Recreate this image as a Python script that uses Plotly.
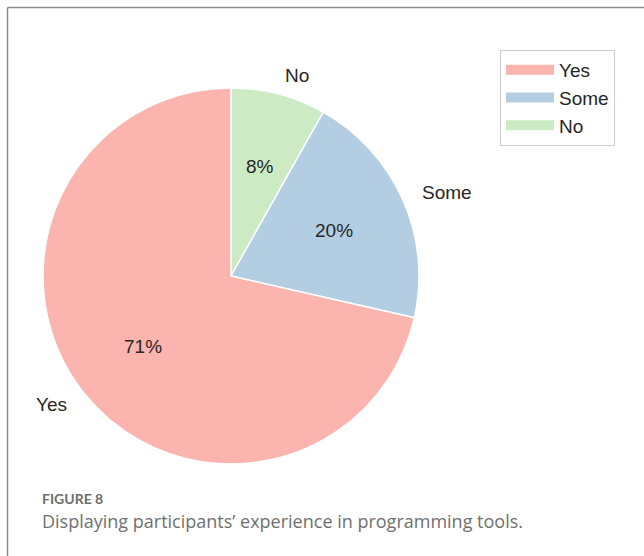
import math
import plotly.graph_objects as go

# Survey responses: experience with programming tools
labels = ["Yes", "Some", "No"]
counts = [35, 10, 4]
colors = ["#fbb4ae", "#b3cde3", "#ccebc5"]

caption_title = "FIGURE 8"
caption_text = "Displaying participants\u2019 experience in programming tools."

W, H = 644, 556
# pie box in pixels (left, top, size)
PX, PY, PS = 43, 88, 376
dom_x = [PX / W, (PX + PS) / W]
dom_y = [1 - (PY + PS) / H, 1 - PY / H]
CX, CY, R = PX + PS / 2, PY + PS / 2, PS / 2

TEXT_FONT = dict(family="Liberation Sans, Arial, sans-serif", size=19, color="#262626")

fig = go.Figure()
# wedges laid out counterclockwise from 12 o'clock in label order,
# i.e. clockwise in reversed order
fig.add_trace(go.Pie(
    labels=labels[::-1],
    values=counts[::-1],
    sort=False,
    direction="clockwise",
    rotation=0,
    marker=dict(colors=colors[::-1], line=dict(color="white", width=1.5)),
    textinfo="none",
    hoverinfo="label+percent",
    showlegend=False,
    domain=dict(x=dom_x, y=dom_y),
))

# legend entries as wide colour patches
for lab, col in zip(labels, colors):
    fig.add_trace(go.Scatter(
        x=[None], y=[None], mode="lines", name=lab,
        line=dict(color=col, width=13), hoverinfo="skip",
    ))


def to_paper(px, py):
    return px / W, 1 - py / H


# percentage labels inside and category labels outside each wedge
total = sum(counts)
annotations = []
start = 0.0  # degrees, measured counterclockwise from 12 o'clock
for lab, v in zip(labels, counts):
    frac = v / total
    span = frac * 360.0
    mid = math.radians(start + span / 2)
    dx, dy = -math.sin(mid), math.cos(mid)
    px, py = to_paper(CX + 0.6 * R * dx, CY - 0.6 * R * dy)
    annotations.append(dict(
        x=px, y=py, xref="paper", yref="paper",
        text=f"{frac * 100:.0f}%", showarrow=False,
        xanchor="center", yanchor="middle", font=TEXT_FONT,
    ))
    px, py = to_paper(CX + 1.1 * R * dx, CY - 1.1 * R * dy)
    annotations.append(dict(
        x=px, y=py, xref="paper", yref="paper",
        text=lab, showarrow=False,
        xanchor="left" if dx > 0 else "right", yanchor="middle", font=TEXT_FONT,
    ))
    start += span

annotations.append(dict(
    x=40 / W, y=1 - 498 / H, xref="paper", yref="paper",
    text=caption_title, showarrow=False, xanchor="left", yanchor="middle",
    font=dict(family="Lato, sans-serif", size=14, color="#6e6e6e", weight=700),
))
annotations.append(dict(
    x=40 / W, y=1 - 521 / H, xref="paper", yref="paper",
    text=caption_text, showarrow=False, xanchor="left", yanchor="middle",
    font=dict(family="'Open Sans', sans-serif", size=18, color="#707070"),
))

fig.update_layout(
    width=W, height=H, autosize=False,
    margin=dict(l=0, r=0, t=0, b=0),
    paper_bgcolor="white", plot_bgcolor="rgba(0,0,0,0)",
    xaxis=dict(range=[-1, 1], visible=False, fixedrange=True),
    yaxis=dict(range=[-1, 1], visible=False, fixedrange=True),
    legend=dict(
        x=500 / W, y=1 - 50 / H, xanchor="left", yanchor="top",
        bgcolor="white", bordercolor="#cccccc", borderwidth=1,
        font=TEXT_FONT, itemwidth=48,
    ),
    annotations=annotations,
    shapes=[
        dict(type="line", xref="paper", yref="paper",
             x0=7.5 / W, x1=7.5 / W, y0=-0.05, y1=1 - 7.5 / H,
             line=dict(color="#8a8a8a", width=1.5)),
        dict(type="line", xref="paper", yref="paper",
             x0=7.5 / W, x1=1.05, y0=1 - 7.5 / H, y1=1 - 7.5 / H,
             line=dict(color="#8a8a8a", width=1.5)),
    ],
)

fig.write_html("out.html")
